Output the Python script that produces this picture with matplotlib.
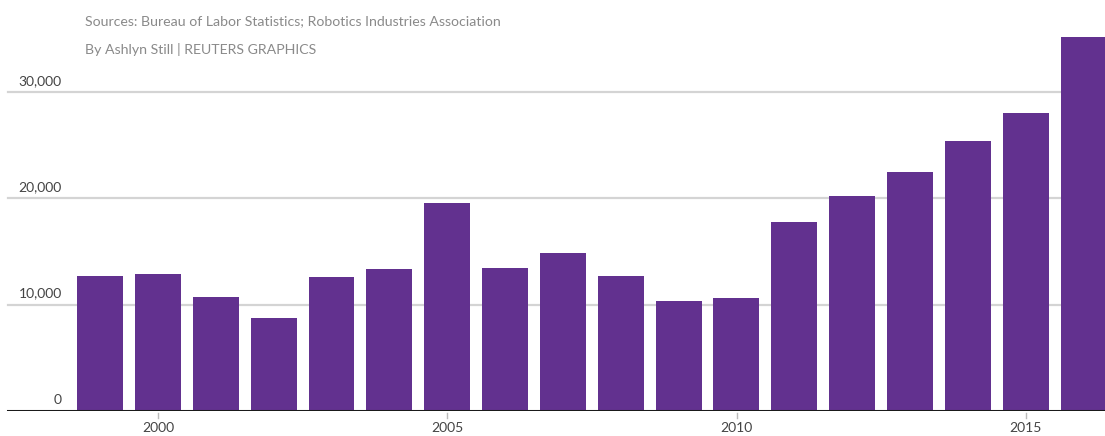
import matplotlib.pyplot as plt

# data
years = [1999, 2000, 2001, 2002, 2003, 2004, 2005, 2006, 2007, 2008,
         2009, 2010, 2011, 2012, 2013, 2014, 2015, 2016]
values = [12730, 12890, 10700, 8780, 12580, 13330, 19540, 13420, 14840, 12700,
          10350, 10660, 17780, 20250, 22510, 25370, 28000, 35150]
y_ticks = [0, 10000, 20000, 30000]
y_labels = ["0", "10,000", "20,000", "30,000"]
x_ticks = [2000, 2005, 2010, 2015]

plt.rcParams['font.family'] = ['Lato', 'DejaVu Sans']

W, H = 1105, 436
fig = plt.figure(figsize=(W / 100, H / 100), dpi=100)
# axes spans the whole width, bottom at baseline pixel 411
ax = fig.add_axes([0, 25 / H, 1, 411 / H])
ax.set_xlim(1997.27, 2016.37)
ax.set_ylim(0, 38660)
ax.axis('off')

# gridlines
for t in y_ticks[1:]:
    ax.axhline(t, xmin=8 / W, xmax=1, color='#d4d4d4', lw=1.6, zorder=0)

ax.bar(years, values, width=0.795, color='#62318f', zorder=2)

# baseline
ax.axhline(0, xmin=8 / W, xmax=1, color='#1a1a1a', lw=2.2, zorder=3)

# y labels, right aligned above the gridlines
for t, lab in zip(y_ticks, y_labels):
    ax.text(1997.27 + 62 / 57.86, t + 500, lab, ha='right', va='bottom',
            fontsize=10, color='#444444')

# x ticks and labels in figure pixels
for yr in x_ticks:
    px = (yr - 1997.27) * 57.86
    fig.add_artist(plt.Line2D([px / W, px / W], [1 - 413 / H, 1 - 418 / H],
                              color='#bbbbbb', lw=1))
    fig.text(px / W, 1 - 428 / H, str(yr), ha='center', va='center',
             fontsize=10, color='#444444')

fig.text(85 / W, 1 - 21 / H,
         "Sources: Bureau of Labor Statistics; Robotics Industries Association",
         ha='left', va='center', fontsize=10.2, color='#8a8a8a')
fig.text(85 / W, 1 - 49 / H, "By Ashlyn Still | REUTERS GRAPHICS",
         ha='left', va='center', fontsize=10.2, color='#8a8a8a')

fig.savefig('out.png', dpi=100)
